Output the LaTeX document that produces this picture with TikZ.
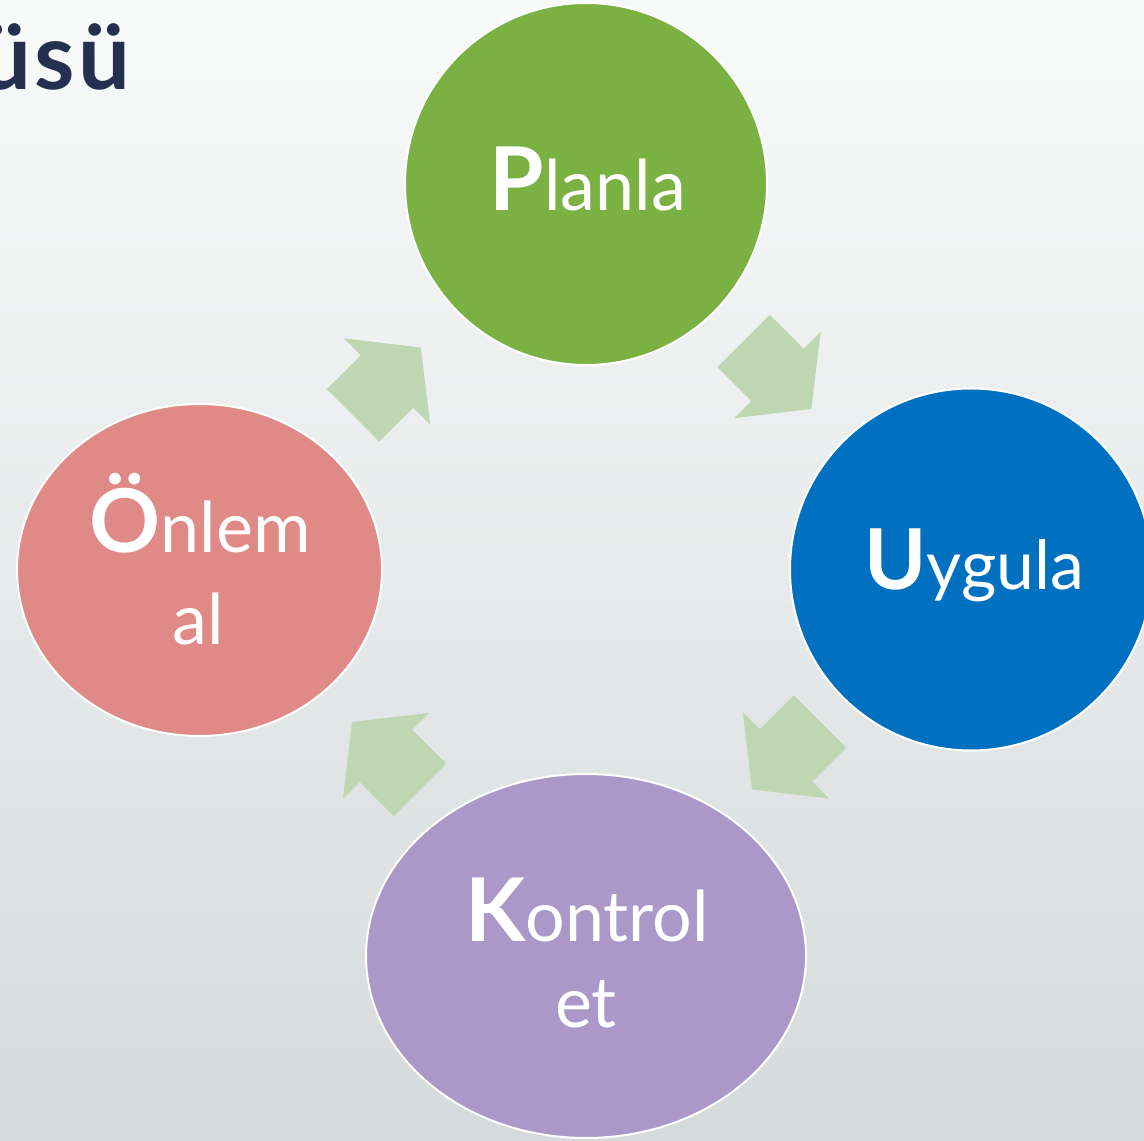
\documentclass[tikz,border=0pt]{standalone}
\usepackage{fontspec}
\setmainfont{Lato}
\newcommand{\bigfirst}[2][88]{{\fontsize{#1}{#1}\selectfont\bfseries #2}}
\tikzset{
  pics/cyclearrow/.style={code={
    \path[fill=arrowColor] (-48,-37) -- (0,-37) -- (0,-61) -- (48,0) --
      (0,61) -- (0,37) -- (-48,37) -- cycle;
  }}
}
\begin{document}
\begin{tikzpicture}[x=1pt,y=1pt,
  stage/.style={draw=white,line width=2pt},
  stagetext/.style={text=white,anchor=base,inner sep=0pt,outer sep=0pt,
    font=\fontsize{70}{84}\selectfont}]
\definecolor{topColor}{RGB}{249,250,250}
\definecolor{bottomColor}{RGB}{214,218,219}
\definecolor{arrowColor}{RGB}{190,214,178}
\path[use as bounding box] (0,0) rectangle (1144,1141);
\begin{scope}
\path[clip] (  0.00,  0.00) rectangle (1144.00,1141.00);
\shade[top color=topColor,bottom color=bottomColor] (0,0) rectangle (1144,1141);
\definecolor{drawColor}{RGB}{37,47,79}

\node[text=drawColor,anchor=base east,inner sep=0pt,outer sep=0pt,
  font=\fontsize{92}{96}\selectfont\bfseries] (title) at (130,1051) {ü\kern3pt s\kern3pt ü};
\definecolor{fillColor}{RGB}{122,177,66}

\path[stage,fill=fillColor] (586,957) circle (181);
\definecolor{fillColor}{RGB}{0,112,192}

\path[stage,fill=fillColor] (971,571.5) circle (181);
\definecolor{fillColor}{RGB}{172,152,200}

\path[stage,fill=fillColor] (586,185) ellipse (220 and 182);
\definecolor{fillColor}{RGB}{224,138,136}

\path[stage,fill=fillColor] (199.5,571) ellipse (182.5 and 166);

\pic[rotate=45] at (387,759.5) {cyclearrow};
\pic[rotate=-45] at (777.5,766) {cyclearrow};
\pic[rotate=-135] at (786,385.5) {cyclearrow};
\pic[rotate=135] at (386,385) {cyclearrow};

\node[stagetext] (planla) at (588,930) {\bigfirst{P}lanla};

\node[stagetext,font=\fontsize{68}{80}\selectfont] (uygula) at (974.5,551) {\bigfirst[84]{U}ygula};

\node[stagetext] (kontrol) at (587,199) {\bigfirst{K}ontrol};

\node[stagetext] (kontrol2) at (586,113) {et};

\node[stagetext] (onlem) at (200,588) {\bigfirst{Ö}nlem};

\node[stagetext] (onlem2) at (198.5,496) {al};
\end{scope}
\end{tikzpicture}
\end{document}
